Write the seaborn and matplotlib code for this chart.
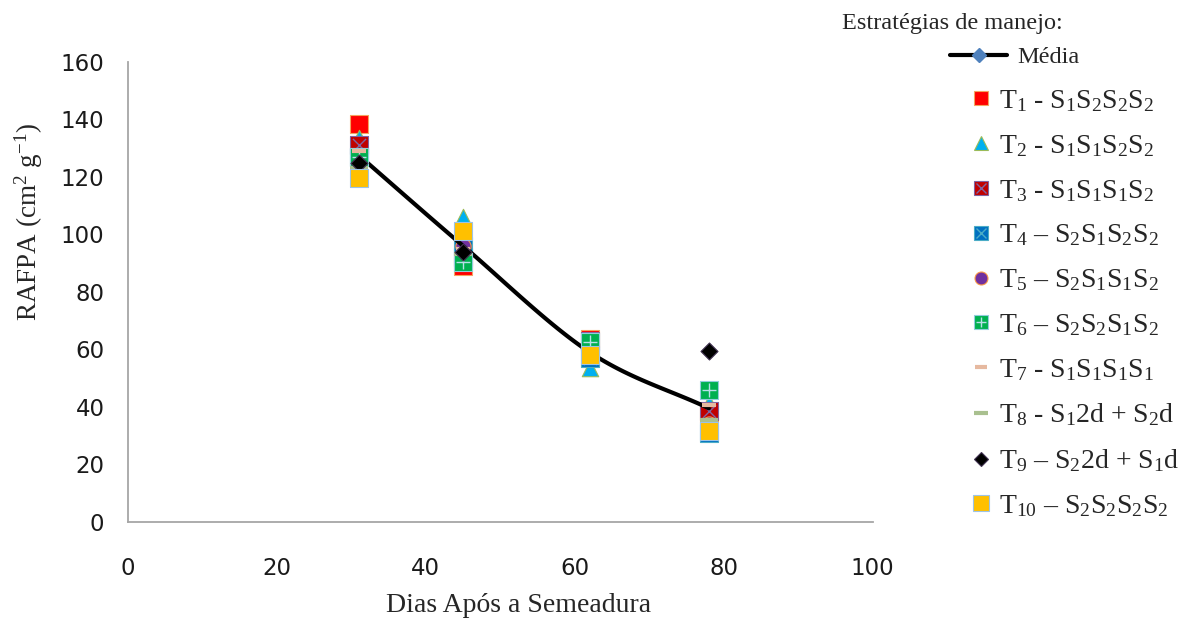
import numpy as np
import pandas as pd
import seaborn as sns
import matplotlib.pyplot as plt
from matplotlib.lines import Line2D
from matplotlib.legend_handler import HandlerTuple

# valores (RAFPA, cm2 g-1)
dias = [31, 45, 62, 78]
t1 = [138.5, 89.0, 63.5, 37.5]
t2 = [133.5, 106.0, 53.5, 41.5]
t3 = [131.0, 92.0, 63.0, 38.5]
t4 = [127.0, 96.0, 57.0, 31.0]
t5 = [122.0, 96.0, 59.0, 34.0]
t6 = [127.0, 90.5, 62.5, 46.0]
t7 = [129.0, 95.0, 60.0, 40.5]
t8 = [123.0, 93.0, 58.0, 35.5]
t9 = [125.0, 94.0, 58.0, 59.5]
t10 = [119.5, 101.0, 58.0, 31.5]
media = [127.5, 96.0, 59.0, 39.5]

rotulos = [
    r'T$_1$ - S$_1$S$_2$S$_2$S$_2$',
    r'T$_2$ - S$_1$S$_1$S$_2$S$_2$',
    r'T$_3$ - S$_1$S$_1$S$_1$S$_2$',
    r'T$_4$ – S$_2$S$_1$S$_2$S$_2$',
    r'T$_5$ – S$_2$S$_1$S$_1$S$_2$',
    r'T$_6$ – S$_2$S$_2$S$_1$S$_2$',
    r'T$_7$ - S$_1$S$_1$S$_1$S$_1$',
    r'T$_8$ - S$_1$2d + S$_2$d',
    r'T$_9$ – S$_2$2d + S$_1$d',
    r'T$_{10}$ – S$_2$S$_2$S$_2$S$_2$',
]
series = [t1, t2, t3, t4, t5, t6, t7, t8, t9, t10]

# estilo de cada tratamento: (marker, face, edge, size, overlay marker, overlay color)
estilos = [
    ('s', '#FF0000', '#F4A460', 160, None, None),
    ('^', '#00B0F0', '#9BBB59', 140, None, None),
    ('s', '#C00000', '#8064A2', 150, 'x', '#8064A2'),
    ('s', '#0070C0', '#4BACC6', 150, 'x', '#4BACC6'),
    ('o', '#7030A0', '#F79646', 120, None, None),
    ('s', '#00B050', '#92CDDC', 150, '+', '#B7DEE8'),
    ('_', '#E6B9A0', '#E6B9A0', 110, None, None),
    ('_', '#A9C08F', '#A9C08F', 160, None, None),
    ('D', '#000000', '#403151', 75, None, None),
    ('s', '#FFC000', '#9DC3E6', 170, None, None),
]

sns.set_theme(style="white")
plt.rcParams['font.family'] = ['Liberation Serif', 'DejaVu Serif']
plt.rcParams['mathtext.fontset'] = 'custom'
plt.rcParams['mathtext.rm'] = 'Liberation Serif'
plt.rcParams['mathtext.it'] = 'Liberation Serif:italic'
plt.rcParams['mathtext.default'] = 'regular'

fig = plt.figure(figsize=(12.02, 6.19), dpi=100)
ax = fig.add_axes([0.1065, 0.157, 0.6195, 0.743])

# linha da media suavizada (Catmull-Rom entre os pontos medios)
px = np.array(dias, dtype=float)
py = np.array(media, dtype=float)
ext_x = np.concatenate([[2 * px[0] - px[1]], px, [2 * px[-1] - px[-2]]])
ext_y = np.concatenate([[2 * py[0] - py[1]], py, [2 * py[-1] - py[-2]]])
sx, sy = [], []
for i in range(1, len(ext_x) - 2):
    t = np.linspace(0, 1, 40)
    for e, out in ((ext_x, sx), (ext_y, sy)):
        p0, p1, p2, p3 = e[i - 1], e[i], e[i + 1], e[i + 2]
        out.extend(0.5 * (2 * p1 + (-p0 + p2) * t + (2 * p0 - 5 * p1 + 4 * p2 - p3) * t ** 2
                          + (-p0 + 3 * p1 - 3 * p2 + p3) * t ** 3))
curva = pd.DataFrame({'x': sx, 'y': sy})

handles = []
for k, (vals, st) in enumerate(zip(series, estilos)):
    m, fc, ec, s, om, oc = st
    df = pd.DataFrame({'dias': dias, 'rafpa': vals})
    lw = 3 if m == '_' else 0.8
    sns.scatterplot(data=df, x='dias', y='rafpa', ax=ax, marker=m, s=s,
                    color=fc, edgecolor=ec, linewidth=lw, zorder=3 + k * 0.1)
    h = Line2D([], [], ls='none', marker=m, markersize=np.sqrt(s) * 0.85,
               markerfacecolor=fc, markeredgecolor=ec, color=fc,
               markeredgewidth=lw)
    if om is not None:
        sns.scatterplot(data=df, x='dias', y='rafpa', ax=ax, marker=om, s=s * 0.6,
                        color=oc, linewidth=1.0, zorder=3 + k * 0.1 + 0.05)
        h2 = Line2D([], [], ls='none', marker=om, markersize=np.sqrt(s) * 0.58,
                    color=oc, markeredgewidth=1.0)
        h = (h, h2)
    handles.append(h)

sns.lineplot(data=curva, x='x', y='y', ax=ax, color='black', linewidth=3,
             sort=False, estimator=None, zorder=3.45)

ax.set_xlim(0, 100)
ax.set_ylim(0, 160)
ax.set_xticks(range(0, 101, 20))
ax.set_yticks(range(0, 161, 20))
for sp in ['top', 'right']:
    ax.spines[sp].set_visible(False)
for sp in ['left', 'bottom']:
    ax.spines[sp].set_color('#A6A6A6')
    ax.spines[sp].set_linewidth(1.3)
ax.tick_params(axis='both', direction='out', length=7, width=1.3, color='#A6A6A6',
               labelsize=16.5, labelcolor='#1a1a1a')
ax.tick_params(axis='y', pad=10)
ax.tick_params(axis='x', pad=18)
for lab in ax.get_xticklabels() + ax.get_yticklabels():
    lab.set_family('DejaVu Sans')

ax.set_xlabel('Dias Após a Semeadura', fontsize=20, va='center')
ax.xaxis.set_label_coords(0.525, -0.183)
ax.set_ylabel(r'RAFPA (cm$^2$ g$^{-1}$)', fontsize=19.5, va='center')
ax.yaxis.set_label_coords(-0.133, 0.651)

# legenda
fig.text(0.7005, 0.962, 'Estratégias de manejo:', fontsize=17.5, ha='left', va='center')
h_media = Line2D([], [], color='black', lw=3, marker='D', markersize=7,
                 markerfacecolor='#4F81BD', markeredgecolor='#4F81BD')
leg1 = fig.legend([h_media], ['Média'], loc='upper left', bbox_to_anchor=(0.7805, 0.945),
                  frameon=False, fontsize=17.5, handlelength=2.35, borderpad=0,
                  handletextpad=0.41)
leg2 = fig.legend(handles, rotulos, loc='upper left', bbox_to_anchor=(0.795, 0.880),
                  frameon=False, fontsize=20, handlelength=0.8, borderpad=0,
                  handletextpad=0.25, labelspacing=0.68,
                  handler_map={tuple: HandlerTuple(ndivide=1, pad=0)})

fig.savefig('out.png', dpi=100)
